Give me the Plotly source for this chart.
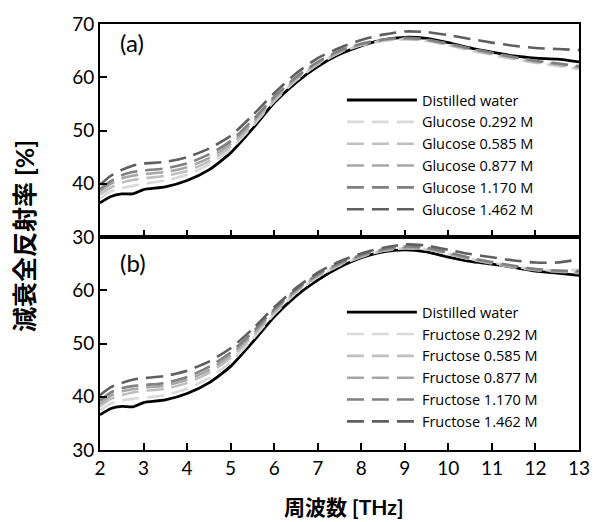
import plotly.graph_objects as go
from plotly.subplots import make_subplots

# Frequency grid [THz]
freq = [2, 2.25, 2.5, 2.75, 3, 3.5, 4, 4.5, 5, 5.5, 6, 6.5, 7, 7.5, 8,
        8.5, 9, 9.5, 10, 10.5, 11, 11.5, 12, 12.5, 13]

concentrations = ["0.292", "0.585", "0.877", "1.170", "1.462"]

# (a) glucose solutions, ATR reflectance [%]
water_a = [36.4, 37.6, 38.1, 38.1, 38.9, 39.4, 40.6, 42.6, 45.8, 50.3, 55.2, 59.0, 62.0,
           64.3, 65.9, 67.0, 67.5, 67.3, 66.5, 65.5, 64.7, 64.0, 63.6, 63.4, 62.9]
glucose_0292 = [37.2, 38.6, 39.2, 39.6, 40.0, 40.6, 41.7, 43.6, 46.5, 50.8, 55.5, 59.4, 62.4,
                64.6, 66.0, 66.8, 67.1, 66.8, 66.0, 65.0, 64.2, 63.4, 62.7, 62.1, 61.5]
glucose_0585 = [38.0, 39.3, 40.2, 40.7, 41.0, 41.5, 42.4, 44.2, 47.0, 51.1, 55.7, 59.6, 62.5,
                64.7, 66.1, 66.9, 67.2, 66.9, 66.1, 65.2, 64.3, 63.5, 62.8, 62.3, 61.7]
glucose_0877 = [38.6, 40.0, 41.0, 41.5, 41.8, 42.2, 43.1, 44.8, 47.5, 51.5, 56.0, 59.8, 62.7,
                64.8, 66.2, 67.0, 67.3, 67.0, 66.2, 65.3, 64.5, 63.7, 63.0, 62.5, 61.9]
glucose_1170 = [39.0, 40.5, 41.6, 42.2, 42.5, 42.9, 43.8, 45.5, 48.0, 51.9, 56.3, 60.0, 62.9,
                65.0, 66.3, 67.1, 67.4, 67.1, 66.3, 65.4, 64.6, 63.8, 63.1, 62.6, 62.1]
glucose_1462 = [39.8, 41.5, 42.6, 43.4, 43.8, 44.1, 45.0, 46.6, 49.0, 52.8, 57.0, 60.7, 63.6,
                65.5, 67.0, 68.0, 68.6, 68.5, 67.9, 67.2, 66.5, 65.9, 65.5, 65.3, 65.1]

# (b) fructose solutions, ATR reflectance [%]
water_b = [36.6, 37.8, 38.2, 38.1, 38.9, 39.4, 40.6, 42.6, 45.7, 50.2, 55.0, 58.9, 61.9,
           64.3, 66.1, 67.2, 67.6, 67.2, 66.2, 65.4, 64.9, 64.3, 63.6, 63.2, 62.8]
fructose_0292 = [37.4, 38.7, 39.3, 39.6, 39.8, 40.3, 41.5, 43.5, 46.5, 50.8, 55.5, 59.5, 62.5,
                 64.7, 66.3, 67.4, 67.9, 67.7, 66.8, 65.9, 65.2, 64.5, 63.9, 63.7, 63.9]
fructose_0585 = [38.2, 39.6, 40.3, 40.8, 41.1, 41.5, 42.6, 44.5, 47.3, 51.3, 55.8, 59.7, 62.6,
                 64.8, 66.3, 67.4, 67.9, 67.7, 66.8, 65.8, 65.0, 64.3, 63.8, 63.6, 63.5]
fructose_0877 = [38.7, 40.2, 41.0, 41.4, 41.7, 42.1, 43.2, 45.0, 47.8, 51.7, 56.1, 59.9, 62.8,
                 64.9, 66.4, 67.5, 68.0, 67.8, 66.9, 65.9, 65.1, 64.4, 63.8, 63.5, 63.2]
fructose_1170 = [39.3, 40.8, 41.6, 42.0, 42.2, 42.6, 43.7, 45.6, 48.3, 52.1, 56.4, 60.1, 63.0,
                 65.1, 66.6, 67.7, 68.2, 68.0, 67.1, 66.1, 65.3, 64.6, 64.0, 63.7, 63.6]
fructose_1462 = [40.3, 41.8, 42.6, 43.2, 43.5, 43.9, 44.9, 46.6, 49.1, 52.7, 56.8, 60.4, 63.3,
                 65.4, 66.9, 68.0, 68.6, 68.4, 67.6, 66.8, 66.2, 65.6, 65.2, 65.2, 65.8]

grays = ["#d9d9d9", "#bfbfbf", "#a6a6a6", "#808080", "#5f5f5f"]

y_ticks_a = [30, 40, 50, 60, 70]
y_ticks_b = [30, 40, 50, 60]
x_ticks = list(range(2, 14))

LATIN = "Lato, 'Open Sans', sans-serif"
LEGEND_FONT = "'Open Sans', Lato, sans-serif"
CJK = "Lato, 'Noto Sans CJK JP', sans-serif"

fig = make_subplots(rows=2, cols=1, shared_xaxes=True, vertical_spacing=0)

panels = [
    (1, "legend", water_a, "Glucose",
     [glucose_0292, glucose_0585, glucose_0877, glucose_1170, glucose_1462]),
    (2, "legend2", water_b, "Fructose",
     [fructose_0292, fructose_0585, fructose_0877, fructose_1170, fructose_1462]),
]

for row, leg, water, sugar, series in panels:
    fig.add_trace(go.Scatter(
        x=freq, y=water, mode="lines", name="Distilled water",
        line=dict(color="black", width=2.8, shape="spline", smoothing=0.6),
        legend=leg), row=row, col=1)
    for conc, vals, col in zip(concentrations, series, grays):
        fig.add_trace(go.Scatter(
            x=freq, y=vals, mode="lines", name=f"{sugar} {conc} M",
            line=dict(color=col, width=2.6, dash="17px,8px", shape="spline", smoothing=0.6),
            legend=leg), row=row, col=1)

axis_common = dict(showline=True, linecolor="black", linewidth=2, mirror=True,
                   ticks="inside", ticklen=7, tickwidth=2, tickcolor="black",
                   showgrid=False, zeroline=False, layer="above traces",
                   tickfont=dict(family=LATIN, size=19, color="black"))

fig.update_xaxes(range=[2, 13], tickvals=x_ticks, **axis_common)
fig.update_xaxes(showticklabels=False, row=1, col=1)
fig.update_yaxes(range=[30, 70], **axis_common)
fig.update_yaxes(tickvals=y_ticks_a, row=1, col=1)
fig.update_yaxes(tickvals=y_ticks_b, row=2, col=1)

legend_common = dict(font=dict(family=LEGEND_FONT, size=14.5, color="black"),
                     bgcolor="rgba(0,0,0,0)", borderwidth=0, itemwidth=70,
                     xanchor="left", yanchor="top", tracegroupgap=0)

fig.update_layout(
    width=602, height=522,
    margin=dict(l=100, r=14, t=18, b=72),
    plot_bgcolor="white", paper_bgcolor="white",
    showlegend=True,
    legend=dict(x=0.505, y=0.859, **legend_common),
    legend2=dict(x=0.505, y=0.361, **legend_common),
    annotations=[
        dict(text="(a)", x=0.037, y=0.956, xref="paper", yref="paper",
             xanchor="left", yanchor="middle", showarrow=False,
             font=dict(family=LATIN, size=24, color="black")),
        dict(text="(b)", x=0.037, y=0.44, xref="paper", yref="paper",
             xanchor="left", yanchor="middle", showarrow=False,
             font=dict(family=LATIN, size=24, color="black")),
        dict(text="<b>周波数 [THz]</b>", x=0.38, y=-0.132, xref="paper", yref="paper",
             xanchor="left", yanchor="middle", showarrow=False,
             font=dict(family=CJK, size=21, color="black")),
        dict(text="<b>減衰全反射率 [%]</b>", x=-0.16, y=0.503, xref="paper", yref="paper",
             xanchor="center", yanchor="middle", showarrow=False, textangle=-90,
             font=dict(family=CJK, size=25, color="black")),
    ],
)

fig.write_html("out.html")
